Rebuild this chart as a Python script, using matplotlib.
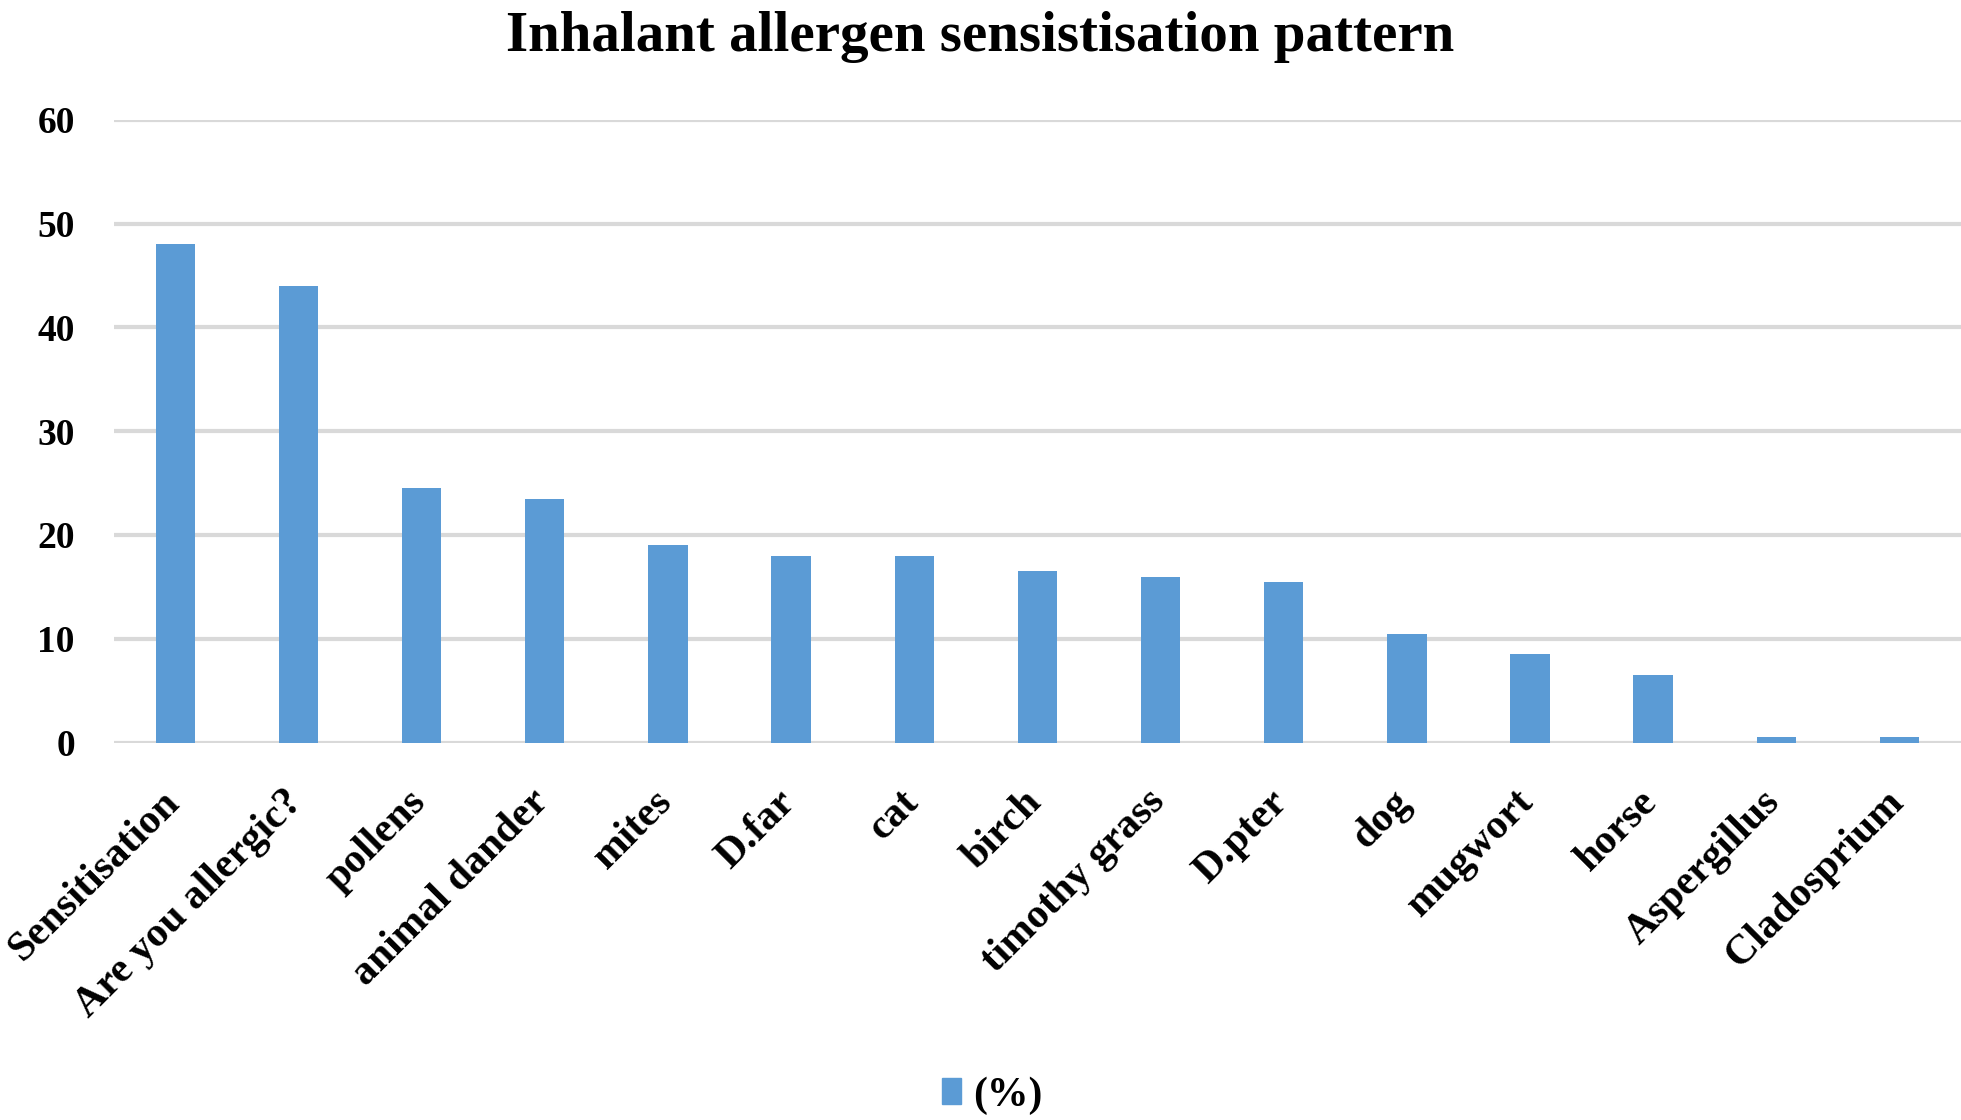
import matplotlib.pyplot as plt
from matplotlib.patches import Patch
from matplotlib.transforms import ScaledTranslation

# data
categories = ["Sensitisation", "Are you allergic?", "pollens", "animal dander", "mites",
              "D.far", "cat", "birch", "timothy grass", "D.pter", "dog", "mugwort",
              "horse", "Aspergillus", "Cladosprium"]
percent = [48, 44, 24.5, 23.5, 19, 18, 18, 16.5, 16, 15.5, 10.5, 8.5, 6.5, 0.5, 0.5]

bar_color = "#5b9bd5"
grid_color = "#d9d9d9"

plt.rcParams["font.family"] = ["Liberation Serif", "DejaVu Serif"]
plt.rcParams["font.weight"] = "bold"

fig = plt.figure(figsize=(19.61, 11.2), dpi=100)
ax = fig.add_axes([0.058, 0.337, 0.942, 0.556])

x = range(len(categories))
ax.bar(x, percent, width=0.32, color=bar_color, zorder=3)

ax.set_xlim(-0.5, len(categories) - 0.5)
ax.set_ylim(0, 60)
ax.set_yticks(range(0, 61, 10))
ax.yaxis.grid(True, color=grid_color, linewidth=3, zorder=0)
ax.tick_params(axis="y", length=0, pad=28, labelsize=27)
ax.tick_params(axis="x", length=0, pad=29, labelsize=30)
for s in ax.spines.values():
    s.set_visible(False)

ax.set_xticks(list(x))
ax.set_xticklabels(categories, rotation=45, ha="right", va="top",
                   rotation_mode="anchor", fontweight="bold")
shift = ScaledTranslation(-0.15, 0, fig.dpi_scale_trans)
for lab in ax.get_xticklabels():
    lab.set_transform(lab.get_transform() + shift)
for lab in ax.get_yticklabels():
    lab.set_fontweight("bold")

fig.suptitle("Inhalant allergen sensistisation pattern", y=0.99, va="top",
             fontsize=41, fontweight="bold")

fig.legend(handles=[Patch(color=bar_color, label="(%)")], loc="center",
           bbox_to_anchor=(0.506, 0.022), frameon=False, fontsize=30,
           handlelength=0.45, handleheight=0.6, handletextpad=0.3)

fig.savefig("out.png", dpi=100)
